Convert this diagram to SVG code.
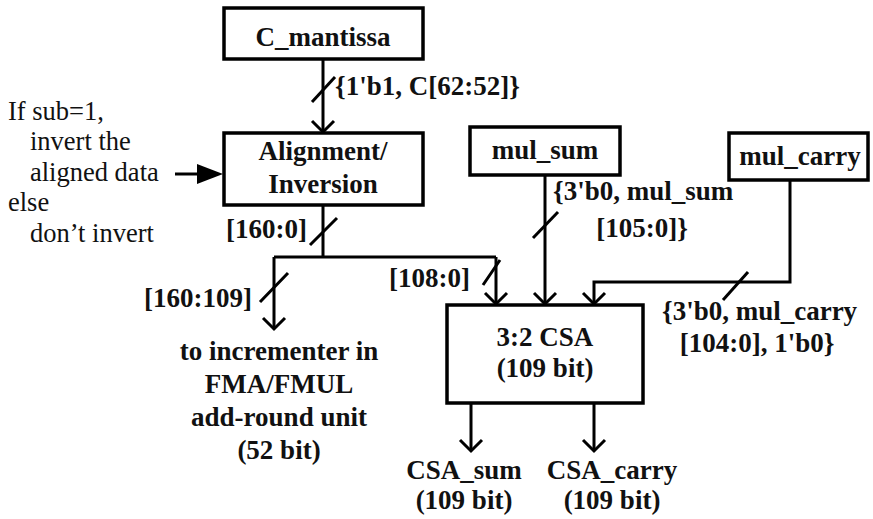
<svg xmlns="http://www.w3.org/2000/svg" width="873" height="519" viewBox="0 0 873 519">
<style>
.box{fill:#fff;stroke:#000;stroke-width:3.5}
.ln{fill:none;stroke:#000;stroke-width:3}
.ah{fill:none;stroke:#000;stroke-width:3}
.b{font-family:"Liberation Serif",serif;font-weight:bold;font-size:27px;fill:#111}
.r{font-family:"Liberation Serif",serif;font-size:26.5px;fill:#111}
.c{text-anchor:middle}
.e{text-anchor:end}
</style>
<rect width="873" height="519" fill="#fff"/>
<g id="connectors">
<path class="ln" d="M323 59V132"/>
<path class="ah" d="M312 121L323 132L334 121"/>
<path class="ln" d="M312 102L335 77"/>
<path class="ln" d="M175 174H200"/>
<polygon points="197,164 223,174 197,184" fill="#000"/>
<path class="ln" d="M323 205V257M274 257H496M274 257V329M496 257V304"/>
<path class="ah" d="M263 318L274 329L285 318M485 293L496 304L507 293"/>
<path class="ln" d="M310 245L337 218M260 302L288 273M483 285L500 260"/>
<path class="ln" d="M545 175V304"/>
<path class="ah" d="M534 293L545 304L556 293"/>
<path class="ln" d="M533 238L558 212"/>
<path class="ln" d="M790 180V282H594V304"/>
<path class="ah" d="M583 293L594 304L605 293"/>
<path class="ln" d="M723 300L748 272"/>
<path class="ln" d="M471 403V451M594 403V451"/>
<path class="ah" d="M460 440L471 451L482 440M583 440L594 451L605 440"/>
</g>
<g id="c_mantissa"><rect class="box" x="224" y="8" width="199" height="51"/><text class="b c" x="323" y="46">C_mantissa</text></g>
<g id="alignment"><rect class="box" x="224" y="133" width="199" height="72"/><text class="b c" x="323" y="160">Alignment/</text><text class="b c" x="323" y="193">Inversion</text></g>
<g id="mul_sum"><rect class="box" x="470" y="127" width="150" height="48"/><text class="b c" x="545" y="159">mul_sum</text></g>
<g id="mul_carry"><rect class="box" x="729" y="133" width="139" height="47"/><text class="b c" x="800" y="165">mul_carry</text></g>
<g id="csa"><rect class="box" x="447" y="305" width="196" height="98"/><text class="b c" x="545" y="346">3:2 CSA</text><text class="b c" x="545" y="377">(109 bit)</text></g>
<g id="labels">
<text class="b" x="335" y="95">{1'b1, C[62:52]}</text>
<text class="r" x="8" y="120">If sub=1,</text>
<text class="r" x="30" y="150">invert the</text>
<text class="r" x="30" y="181">aligned data</text>
<text class="r" x="8" y="211">else</text>
<text class="r" x="30" y="242">don’t invert</text>
<text class="b e" x="307" y="238">[160:0]</text>
<text class="b e" x="252" y="307">[160:109]</text>
<text class="b e" x="470" y="287">[108:0]</text>
<text class="b" x="553" y="200">{3'b0, mul_sum</text>
<text class="b c" x="642" y="237">[105:0]}</text>
<text class="b" x="662" y="320">{3'b0, mul_carry</text>
<text class="b c" x="757" y="352">[104:0], 1'b0}</text>
<text class="b c" x="279" y="360">to incrementer in</text>
<text class="b c" x="279" y="393">FMA/FMUL</text>
<text class="b c" x="279" y="426">add-round unit</text>
<text class="b c" x="279" y="459">(52 bit)</text>
<text class="b c" x="464" y="479">CSA_sum</text>
<text class="b c" x="464" y="509">(109 bit)</text>
<text class="b c" x="612" y="479">CSA_carry</text>
<text class="b c" x="612" y="509">(109 bit)</text>
</g>
</svg>
